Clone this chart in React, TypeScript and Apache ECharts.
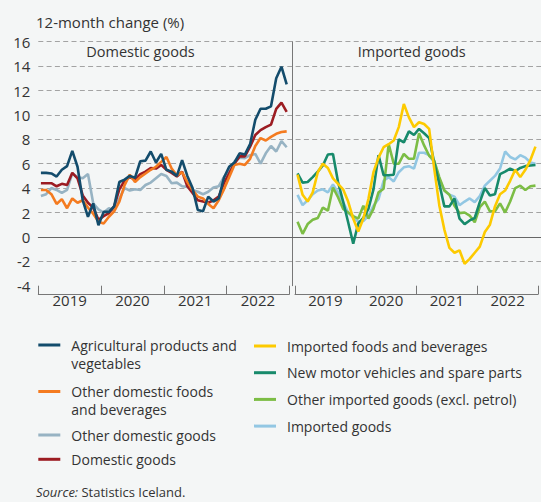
import React, { useEffect, useRef } from 'react';
import * as echarts from 'echarts';

const FONT = "'Open Sans', sans-serif";

// Monthly observations, Jan 2019 – Dec 2022
const YEARS = ['2019', '2020', '2021', '2022'];
const Y_TICKS = { min: -4, max: 16, step: 2 };

// Domestic goods panel
const agricultural = [
  5.25, 5.25, 5.2, 4.95, 5.5, 5.8, 7.05, 5.75, 3.0, 1.65, 2.75, 0.95,
  2.05, 2.05, 2.5, 4.5, 4.7, 5.0, 4.85, 6.2, 6.25, 7.0, 6.1, 6.8,
  5.5, 5.35, 5.0, 6.3, 5.0, 4.0, 2.2, 2.1, 3.3, 2.9, 3.15, 4.85,
  5.75, 6.1, 6.85, 6.75, 7.6, 9.6, 10.5, 10.5, 10.7, 13.0, 13.95, 12.5,
];
const otherDomesticFoods = [
  3.85, 3.85, 3.5, 2.7, 3.1, 2.35, 3.15, 2.8, 3.0, 2.4, 1.9, 1.25,
  1.1, 1.65, 2.1, 2.9, 4.25, 5.1, 4.5, 4.9, 5.2, 5.5, 5.75, 6.15,
  6.55, 5.6, 5.05, 5.3, 4.5, 3.85, 3.3, 3.15, 2.7, 2.35, 3.0, 3.9,
  4.9, 5.9, 6.0, 5.9, 6.4, 7.45, 8.1, 7.9, 8.2, 8.45, 8.6, 8.65,
];
const otherDomesticGoods = [
  3.35, 3.5, 4.0, 3.85, 3.6, 3.85, 5.2, 4.9, 4.8, 5.15, 2.75, 2.25,
  2.0, 2.35, 2.15, 3.15, 4.0, 3.8, 3.9, 3.85, 4.25, 4.45, 4.8, 5.15,
  5.0, 4.4, 4.45, 4.15, 4.1, 3.85, 3.7, 3.5, 3.7, 4.05, 4.15, 4.9,
  5.5, 6.15, 6.5, 6.45, 6.7, 6.8, 6.0, 6.85, 7.45, 7.0, 7.85, 7.35,
];
const domesticGoods = [
  4.4, 4.4, 4.4, 4.15, 4.35, 4.25, 5.25, 4.8, 3.4, 2.8, 2.4, 1.4,
  1.7, 1.95, 2.5, 3.9, 4.6, 4.9, 4.7, 5.15, 5.35, 5.65, 5.6, 5.9,
  5.5, 5.25, 4.95, 5.35, 4.15, 3.6, 3.0, 2.9, 2.8, 3.0, 3.3, 4.4,
  5.2, 6.0, 6.6, 6.6, 7.4, 8.35, 8.75, 9.0, 9.2, 10.5, 11.0, 10.25,
];

// Imported goods panel
const importedFoods = [
  5.1, 3.45, 2.9, 3.65, 5.3, 6.0, 5.65, 4.8, 4.35, 3.9, 2.9, 1.5,
  0.45, 1.5, 3.1, 5.3, 6.5, 7.35, 7.6, 7.9, 9.0, 10.9, 9.8, 9.0,
  9.4, 9.25, 8.85, 5.6, 2.6, 0.6, -0.9, -1.3, -1.1, -2.2, -1.8, -1.3,
  -0.8, 0.4, 1.0, 2.5, 3.5, 3.8, 4.6, 5.5, 4.9, 5.5, 6.3, 7.4,
];
const motorVehicles = [
  5.2, 4.45, 4.5, 4.9, 5.35, 5.85, 6.75, 6.8, 4.5, 2.9, 1.2, -0.55,
  1.1, 1.55, 2.3, 3.9, 6.7, 5.05, 5.05, 5.1, 8.0, 7.75, 8.65, 8.35,
  8.85, 8.5, 8.1, 6.1, 4.35, 2.5, 2.5, 3.15, 1.5, 1.05, 1.35, 1.55,
  2.85, 4.0, 3.4, 3.5, 5.15, 5.35, 5.6, 5.4, 5.65, 5.8, 5.85, 5.9,
];
const otherImported = [
  1.25, 0.25, 1.05, 1.4, 1.55, 2.4, 2.15, 4.05, 3.25, 2.3, 2.0, 1.7,
  1.5, 2.55, 1.5, 2.3, 3.65, 3.95, 7.6, 6.0, 6.0, 6.8, 6.4, 6.4,
  8.5, 7.5, 6.65, 6.25, 4.9, 3.8, 3.45, 2.55, 1.95, 2.0, 1.75, 1.2,
  2.45, 2.9, 2.1, 2.1, 2.75, 2.0, 2.9, 4.0, 4.2, 3.85, 4.15, 4.2,
];
const importedGoods = [
  3.45, 2.6, 3.0, 3.5, 3.8, 3.9, 3.65, 4.3, 3.65, 2.85, 2.0, 1.55,
  1.25, 1.3, 1.75, 2.55, 3.1, 4.6, 4.9, 4.55, 5.3, 5.7, 5.8, 5.6,
  6.9, 6.9, 6.7, 6.1, 4.75, 3.8, 3.45, 3.3, 2.6, 2.9, 3.15, 2.85,
  3.35, 4.2, 4.6, 5.0, 5.6, 7.0, 6.55, 6.35, 6.7, 6.5, 6.1, 6.0,
];

const N_MONTHS = YEARS.length * 12;

const NAMES = {
  agri: 'Agricultural products and vegetables',
  odf: 'Other domestic foods and beverages',
  odg: 'Other domestic goods',
  dg: 'Domestic goods',
  imf: 'Imported foods and beverages',
  mv: 'New motor vehicles and spare parts',
  oi: 'Other imported goods (excl. petrol)',
  ig: 'Imported goods',
};
// two-line legend labels; a leading blank line keeps the key on the first line
const LEGEND_LABELS: Record<string, string> = {
  [NAMES.agri]: '\nAgricultural products and\nvegetables',
  [NAMES.odf]: '\nOther domestic foods\nand beverages',
};

const COLORS = {
  agri: '#134c6c',
  odf: '#f47b20',
  odg: '#97b3c3',
  dg: '#9c1c22',
  imf: '#fdca00',
  mv: '#178a6b',
  oi: '#7cbd45',
  ig: '#92c7e3',
};

// month index -> centre of month on a 0..48 month axis
const toPairs = (vals: number[]) => vals.map((v, i) => [i + 0.5, v]);

const GRID_TOP = 41.7;
const GRID_H = 244;
const PANEL_W = 251;
const LEFT_X = 38.3;
const RIGHT_X = 295;
const AXIS_OFFSET = 8.6;

function tickAxis(gridIndex: number) {
  return {
    type: 'value',
    gridIndex,
    min: 0,
    max: N_MONTHS,
    interval: 12,
    position: 'bottom',
    offset: AXIS_OFFSET,
    axisLine: { show: true, onZero: false, lineStyle: { color: '#777', width: 1 } },
    axisTick: { show: true, inside: true, length: AXIS_OFFSET, lineStyle: { color: '#777', width: 1 } },
    axisLabel: { show: false },
    splitLine: { show: false },
  };
}
function labelAxis(gridIndex: number) {
  return {
    type: 'value',
    gridIndex,
    min: 0,
    max: N_MONTHS,
    interval: 6,
    position: 'bottom',
    offset: AXIS_OFFSET,
    axisLine: { show: false, onZero: false },
    axisTick: { show: false },
    splitLine: { show: false },
    axisLabel: {
      show: true,
      margin: -2,
      fontSize: 15,
      color: '#333',
      fontFamily: FONT,
      formatter: (v: number) => (v % 12 === 6 ? YEARS[(v - 6) / 12] ?? '' : ''),
    },
  };
}

function line(name: string, color: string, vals: number[], xi: number, yi: number) {
  return {
    type: 'line',
    name,
    xAxisIndex: xi,
    yAxisIndex: yi,
    data: toPairs(vals),
    symbol: 'none',
    lineStyle: { color, width: 2.6 },
    itemStyle: { color, borderWidth: 0 },
    emphasis: { disabled: true },
  };
}

const legendBase = {
  orient: 'vertical',
  padding: 0,
  itemWidth: 22,
  itemHeight: 3,
  icon: 'path://M0 0H22V3H0Z',
  selectedMode: false,
  itemStyle: { borderWidth: 0 },
  formatter: (n: string) => LEGEND_LABELS[n] ?? n,
  textStyle: { fontSize: 14, color: '#333', fontFamily: FONT, lineHeight: 18, padding: [0, 0, 0, 6] },
};

export default function App() {
  const ref = useRef<HTMLDivElement>(null);
  useEffect(() => {
    if (!ref.current) return;
    const chart = echarts.init(ref.current, undefined, { renderer: 'svg' });
    const option = {
      animation: false,
      backgroundColor: '#f4f6f6',
      textStyle: { fontFamily: FONT },
      grid: [
        { left: LEFT_X, top: GRID_TOP, width: PANEL_W, height: GRID_H },
        { left: RIGHT_X, top: GRID_TOP, width: PANEL_W, height: GRID_H },
        { left: LEFT_X, top: GRID_TOP, width: 520, height: GRID_H },
      ],
      xAxis: [
        tickAxis(0),
        labelAxis(0),
        tickAxis(1),
        labelAxis(1),
        {
          type: 'value',
          gridIndex: 2,
          min: 0,
          max: 1,
          axisLine: { show: true, onZero: true, lineStyle: { color: '#666', width: 1 } },
          axisTick: { show: false },
          axisLabel: { show: false },
          splitLine: { show: false },
        },
      ],
      yAxis: [
        { type: 'value', gridIndex: 0, min: Y_TICKS.min, max: Y_TICKS.max, interval: Y_TICKS.step, show: false },
        {
          type: 'value',
          gridIndex: 1,
          min: Y_TICKS.min,
          max: Y_TICKS.max,
          interval: Y_TICKS.step,
          position: 'left',
          offset: 2.7,
          axisLine: { show: true, onZero: false, lineStyle: { color: '#777', width: 1 } },
          axisTick: { show: false },
          axisLabel: { show: false },
          splitLine: { show: false },
        },
        {
          type: 'value',
          gridIndex: 2,
          min: Y_TICKS.min,
          max: Y_TICKS.max,
          interval: Y_TICKS.step,
          axisLine: { show: false },
          axisTick: { show: false },
          axisLabel: { fontSize: 15, color: '#333', margin: 8, fontFamily: FONT },
          splitLine: {
            show: true,
            showMinLine: false,
            lineStyle: { color: '#a3a3a3', width: 1, type: [5, 3.3] },
          },
        },
      ],
      legend: [
        { ...legendBase, left: LEFT_X, top: 345 - 27, data: [NAMES.agri] },
        { ...legendBase, left: LEFT_X, top: 391.5 - 27, data: [NAMES.odf] },
        { ...legendBase, left: LEFT_X, top: 435 - 9, itemGap: 6.3, data: [NAMES.odg, NAMES.dg] },
        { ...legendBase, left: 254, top: 346 - 9, itemGap: 8.7, data: [NAMES.imf, NAMES.mv, NAMES.oi, NAMES.ig] },
      ],
      graphic: [
        {
          type: 'text', x: 36, y: 22,
          style: { text: '12-month change (%)', fontSize: 15, fontFamily: FONT, fill: '#333', align: 'left', verticalAlign: 'middle' },
        },
        {
          type: 'text', x: 140.5, y: 51.7,
          style: { text: 'Domestic goods', fontSize: 14.5, fontFamily: FONT, fill: '#333', align: 'center', verticalAlign: 'middle' },
        },
        {
          type: 'text', x: 411.7, y: 51.7,
          style: { text: 'Imported goods', fontSize: 14.5, fontFamily: FONT, fill: '#333', align: 'center', verticalAlign: 'middle' },
        },
        {
          type: 'text', x: 36, y: 492,
          style: {
            text: '{i|Source:} Statistics Iceland.',
            fontSize: 13, fontFamily: FONT, fill: '#333', align: 'left', verticalAlign: 'middle',
            rich: { i: { fontStyle: 'italic', fontSize: 13, fontFamily: FONT, fill: '#333' } },
          },
        },
      ],
      series: [
        line(NAMES.odg, COLORS.odg, otherDomesticGoods, 0, 0),
        line(NAMES.dg, COLORS.dg, domesticGoods, 0, 0),
        line(NAMES.odf, COLORS.odf, otherDomesticFoods, 0, 0),
        line(NAMES.agri, COLORS.agri, agricultural, 0, 0),
        line(NAMES.ig, COLORS.ig, importedGoods, 2, 1),
        line(NAMES.oi, COLORS.oi, otherImported, 2, 1),
        line(NAMES.mv, COLORS.mv, motorVehicles, 2, 1),
        line(NAMES.imf, COLORS.imf, importedFoods, 2, 1),
      ],
    };
    chart.setOption(option as any);
    return () => chart.dispose();
  }, []);
  return <div ref={ref} style={{ position: 'fixed', left: 0, top: 0, width: 541, height: 502 }} />;
}
